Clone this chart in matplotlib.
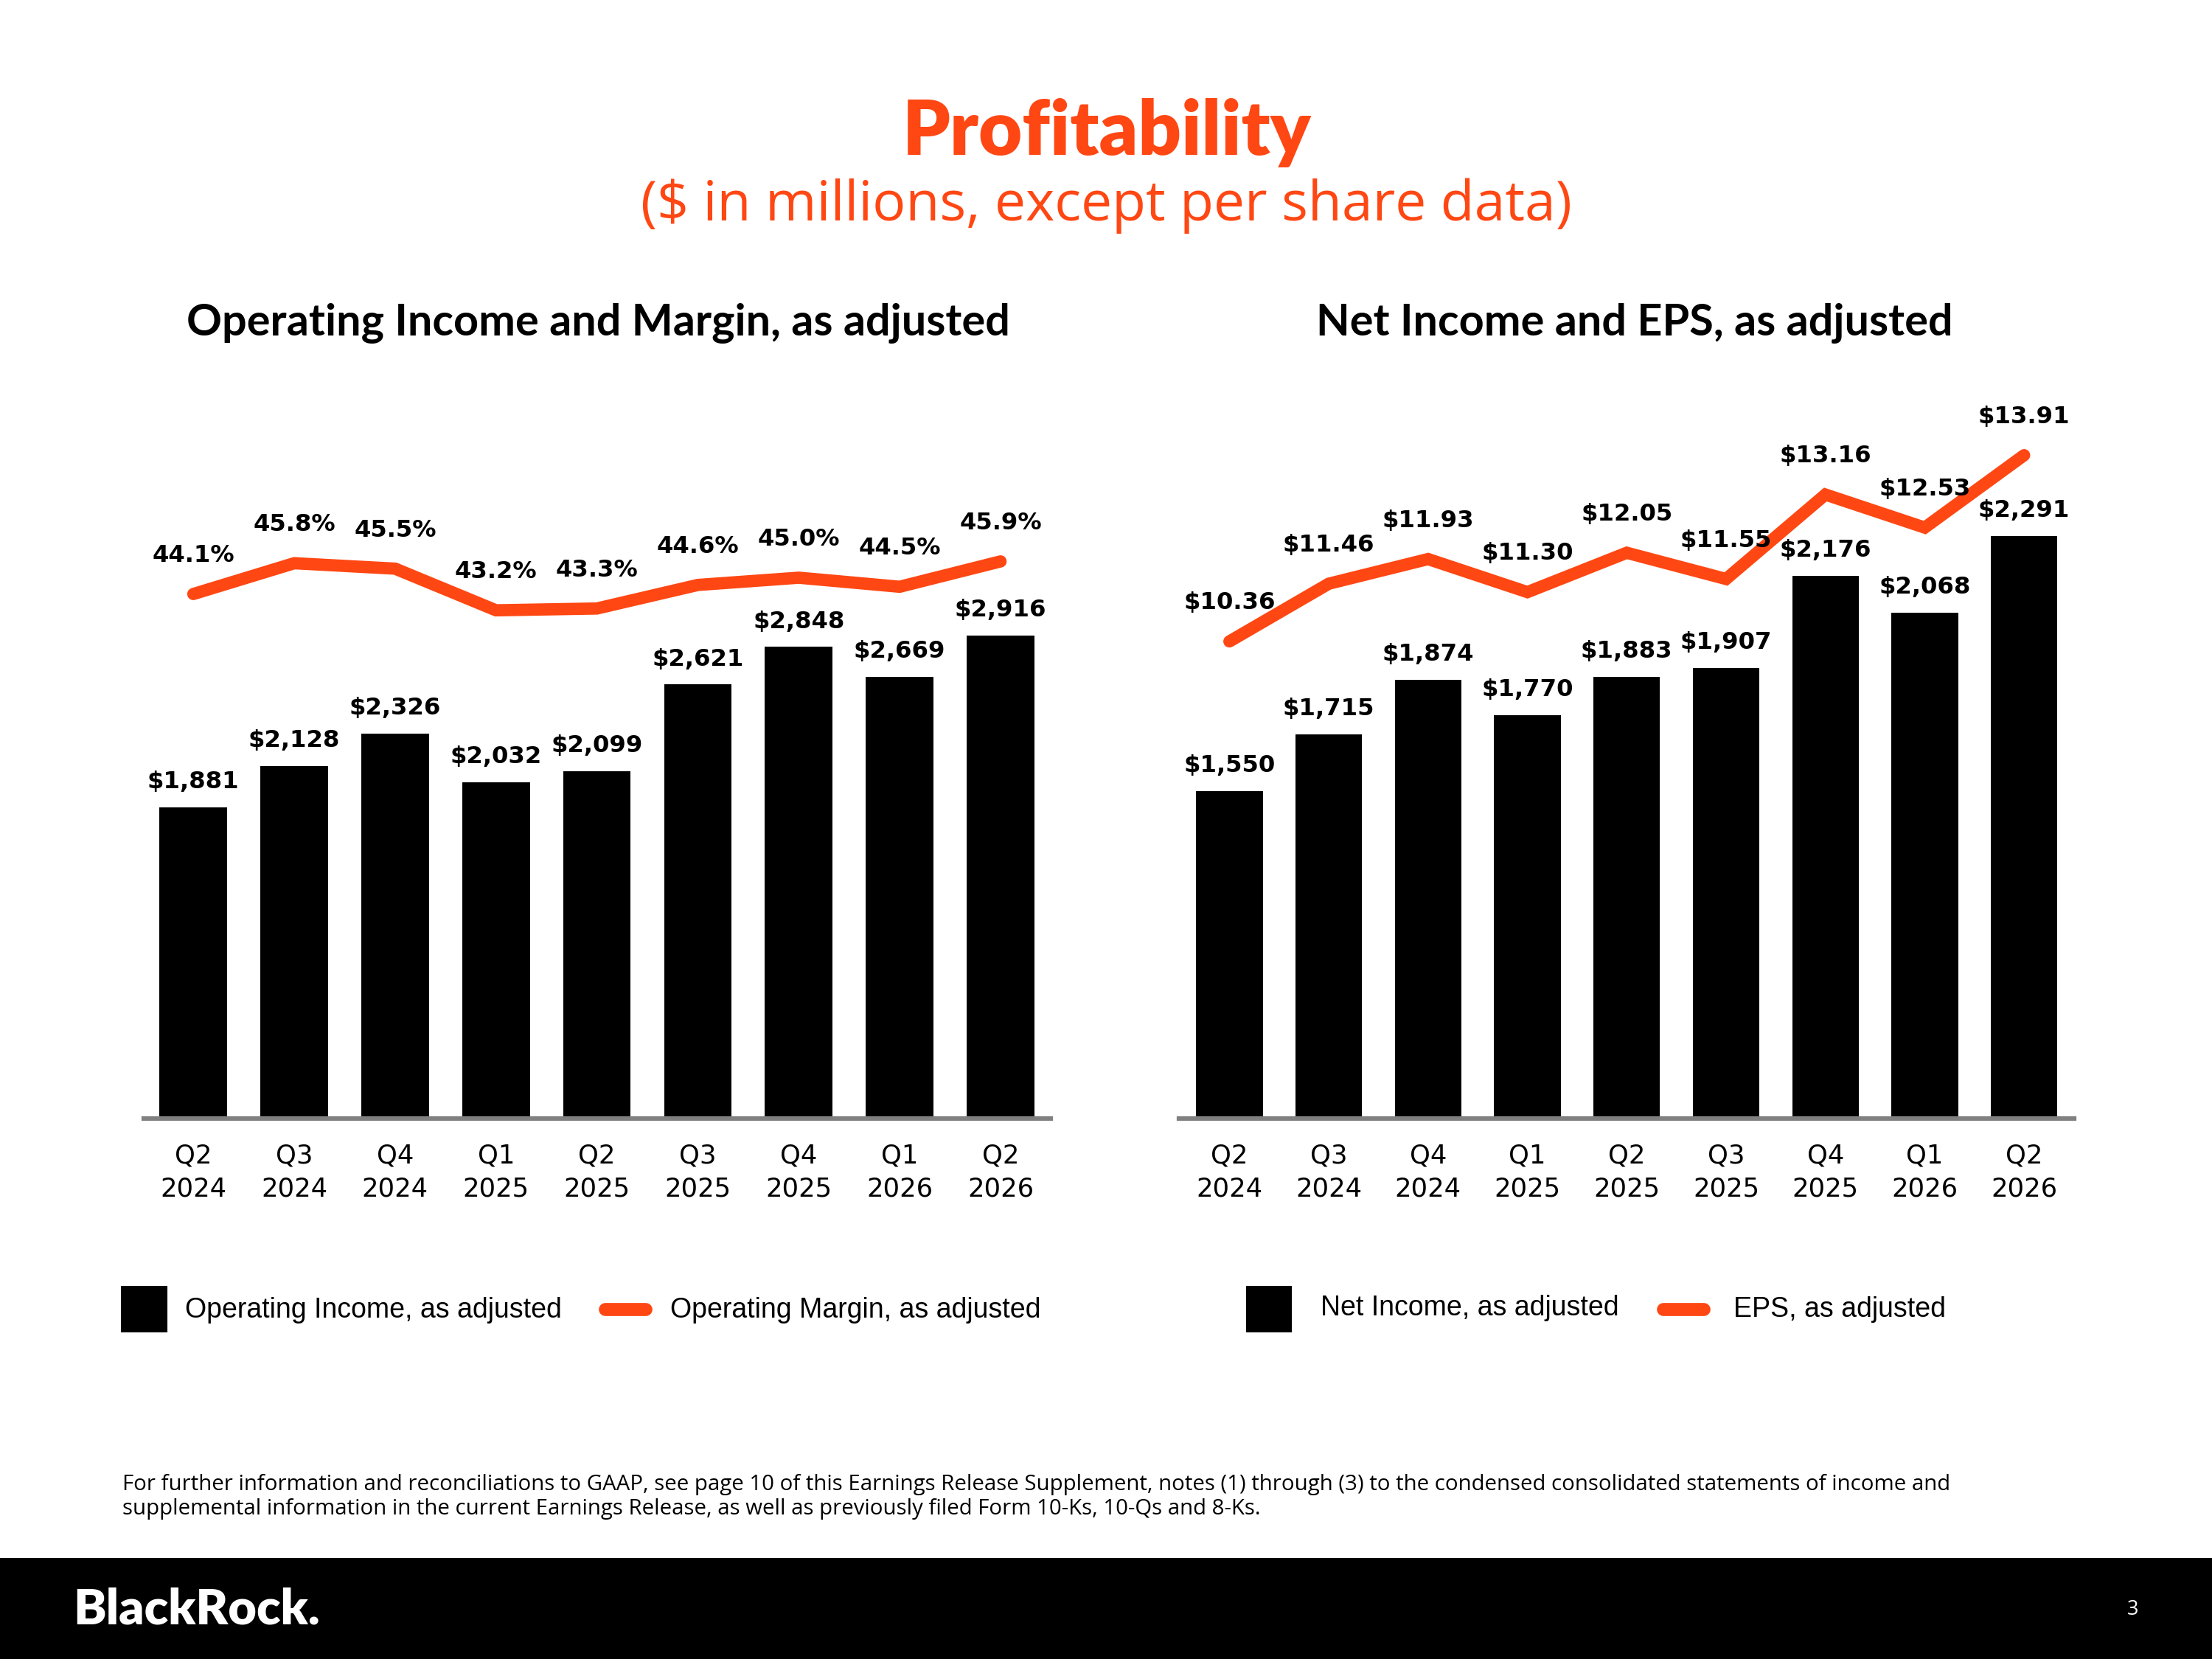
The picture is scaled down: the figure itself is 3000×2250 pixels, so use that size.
import matplotlib
matplotlib.use('Agg')
import matplotlib.pyplot as plt
from matplotlib.patches import Rectangle
from matplotlib.lines import Line2D

quarters = ['Q2\n2024', 'Q3\n2024', 'Q4\n2024', 'Q1\n2025', 'Q2\n2025',
            'Q3\n2025', 'Q4\n2025', 'Q1\n2026', 'Q2\n2026']
op_income = [1881, 2128, 2326, 2032, 2099, 2621, 2848, 2669, 2916]
op_margin = [44.1, 45.8, 45.5, 43.2, 43.3, 44.6, 45.0, 44.5, 45.9]
net_income = [1550, 1715, 1874, 1770, 1883, 1907, 2176, 2068, 2291]
eps = [10.36, 11.46, 11.93, 11.30, 12.05, 11.55, 13.16, 12.53, 13.91]

ORANGE = '#FF4713'
GRAY = '#808080'
W, H = 1568.0, 1176.0  # layout grid (reference pixels / 1.913)

fig = plt.figure(figsize=(20, 15), dpi=150)


def fx(x):
    return x / W


def fy(y):
    return 1 - y / H


def panel(x0, x1, bars, line, bar_lim, line_lim, bar_fmt, line_fmt, xlim):
    ax = fig.add_axes([fx(x0), fy(793), fx(x1 - x0), fy(300) - fy(793)])
    pos = list(range(len(quarters)))
    ax.bar(pos, bars, width=0.67, color='black', zorder=2)
    ax.set_xlim(*xlim)
    ax.set_ylim(*bar_lim)
    for s in ['top', 'right', 'left']:
        ax.spines[s].set_visible(False)
    ax.spines['bottom'].set_color(GRAY)
    ax.spines['bottom'].set_linewidth(3)
    ax.set_yticks([])
    ax.set_xticks(pos)
    ax.set_xticklabels(quarters, fontsize=17, family='DejaVu Sans',
                       linespacing=1.4)
    ax.tick_params(axis='x', length=0, pad=16)
    for p, v in zip(pos, bars):
        ax.annotate(bar_fmt(v), (p, v), xytext=(0, 16.5), textcoords='offset points',
                    ha='center', va='center', fontsize=15.5, fontweight='bold',
                    family='DejaVu Sans')

    ax2 = ax.twinx()
    ax2.plot(pos, line, color=ORANGE, lw=8, solid_capstyle='round',
             solid_joinstyle='miter', zorder=3)
    ax2.set_ylim(*line_lim)
    ax2.axis('off')
    for p, v in zip(pos, line):
        ax2.annotate(line_fmt(v), (p, v), xytext=(0, 25), textcoords='offset points',
                     ha='center', va='center', fontsize=15.5, fontweight='bold',
                     family='DejaVu Sans')
    return ax


panel(102, 745, op_income, op_margin, (0, 4199), (15.13, 53.53),
      lambda v: f'${v:,.0f}', lambda v: f'{v:.1f}%', (-0.49, 8.5))
panel(836, 1470, net_income, eps, (600, 2618), (1.26, 14.52),
      lambda v: f'${v:,.0f}', lambda v: f'${v:.2f}', (-0.504, 8.5))

# titles
fig.text(fx(784.5), fy(94), 'Profitability', ha='center', va='center',
         fontsize=49, fontweight='heavy', color=ORANGE, family='Lato')
fig.text(fx(784), fy(146), '($ in millions, except per share data)', ha='center',
         va='center', fontsize=36, color=ORANGE, family='Open Sans')
fig.text(fx(424), fy(229), 'Operating Income and Margin, as adjusted', ha='center',
         va='center', fontsize=28.5, fontweight='bold', family='Lato')
fig.text(fx(1158.5), fy(229), 'Net Income and EPS, as adjusted', ha='center',
         va='center', fontsize=28.5, fontweight='bold', family='Lato')

# legends
legend_font = dict(fontsize=18, family='Liberation Sans', va='center')
fig.add_artist(Rectangle((fx(86), fy(944)), fx(32), fy(912) - fy(944),
                         color='black', transform=fig.transFigure))
fig.text(fx(131), fy(929), 'Operating Income, as adjusted', **legend_font)
fig.add_artist(Line2D([fx(429), fx(458)], [fy(928), fy(928)], color=ORANGE, lw=8.5,
                      solid_capstyle='round', transform=fig.transFigure))
fig.text(fx(475), fy(929), 'Operating Margin, as adjusted', **legend_font)

fig.add_artist(Rectangle((fx(884), fy(944)), fx(31), fy(912) - fy(944),
                         color='black', transform=fig.transFigure))
fig.text(fx(936), fy(927), 'Net Income, as adjusted', **legend_font)
fig.add_artist(Line2D([fx(1179), fx(1208)], [fy(928), fy(928)], color=ORANGE, lw=8.5,
                      solid_capstyle='round', transform=fig.transFigure))
fig.text(fx(1229), fy(928), 'EPS, as adjusted', **legend_font)

# footnote
fig.text(fx(87), fy(1045),
         'For further information and reconciliations to GAAP, see page 10 of this Earnings '
         'Release Supplement, notes (1) through (3) to the condensed consolidated statements '
         'of income and\nsupplemental information in the current Earnings Release, as well '
         'as previously filed Form 10-Ks, 10-Qs and 8-Ks.',
         ha='left', va='top', fontsize=14.1, family='Open Sans', linespacing=1.15)

# footer band
fig.add_artist(Rectangle((0, 0), 1, fy(1105), color='black',
                         transform=fig.transFigure))
fig.text(fx(52), fy(1141), 'BlackRock.', color='white', fontsize=32,
         fontweight='heavy', family='Lato', va='center', ha='left')
fig.text(fx(1512), fy(1141), '3', color='white', fontsize=13,
         family='Open Sans', va='center', ha='center')

fig.savefig('out.png', dpi=150, facecolor='white')
